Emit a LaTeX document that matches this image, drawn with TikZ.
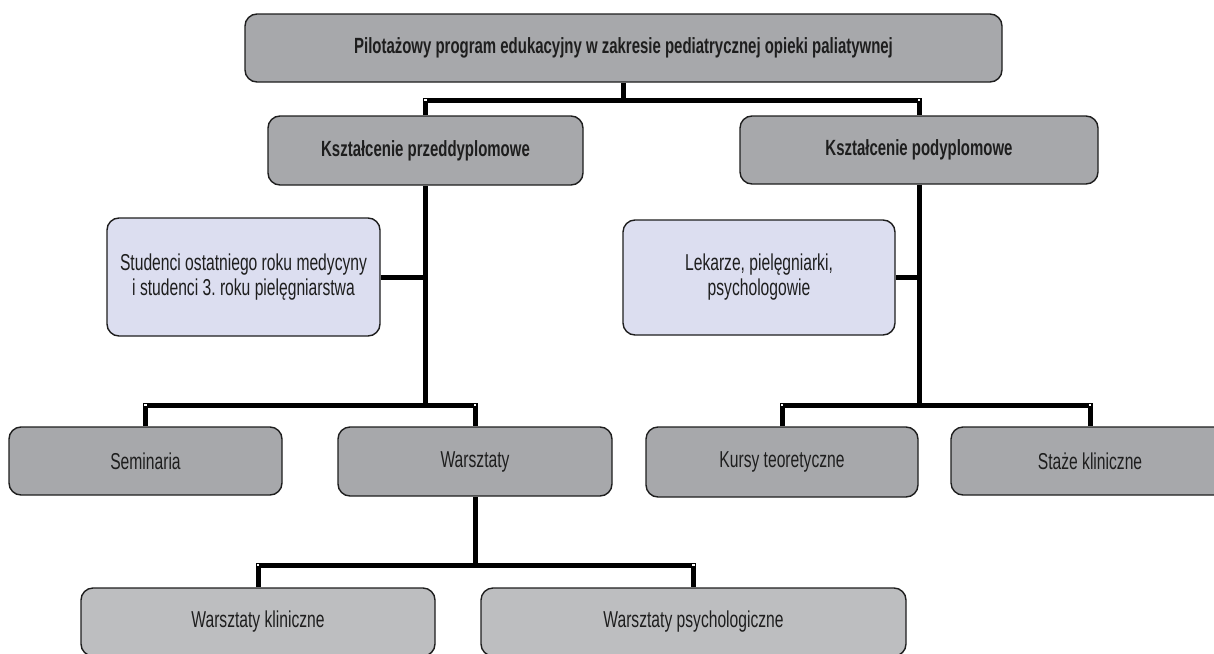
\documentclass[tikz,border=0pt]{standalone}
\usepackage{fontspec}
\setmainfont{Liberation Sans}[FakeStretch=0.68]
\frenchspacing
\usetikzlibrary{backgrounds}
\definecolor{boxgray}{HTML}{A7A8AB}
\definecolor{boxlight}{HTML}{BDBEC0}
\definecolor{boxblue}{HTML}{DCDEF0}
\definecolor{ink}{HTML}{1E1E1E}
\tikzset{
  box/.style={draw=ink, line width=1.4pt, rounded corners=12pt, fill=boxgray,
    text=ink, font=\fontsize{23}{25}\selectfont, align=center, inner sep=0pt},
  headbox/.style={box, font=\fontsize{22}{25}\selectfont\bfseries},
  lightbox/.style={box, fill=boxlight},
  bluebox/.style={box, fill=boxblue},
  conn/.style={line width=5pt, black, line join=miter},
  jdot/.style={fill=white}
}
\begin{document}
\begin{tikzpicture}[x=1pt,y=-1pt]
\useasboundingbox (0,0) rectangle (1214,653);
\clip (0,0) rectangle (1214,653);
% nodes
\node[headbox, minimum width=757pt, minimum height=68pt] (top) at (623.5,48)
  {Pilotażowy program edukacyjny w zakresie pediatrycznej opieki paliatywnej};
\node[headbox, minimum width=315pt, minimum height=69pt] (pre) at (425.5,150.5)
  {Kształcenie przeddyplomowe};
\node[headbox, minimum width=358pt, minimum height=68pt] (post) at (919,150)
  {Kształcenie podyplomowe};
\node[bluebox, minimum width=273pt, minimum height=118pt] (stud) at (243.5,277)
  {Studenci ostatniego roku medycyny\\i studenci 3. roku pielęgniarstwa};
\node[bluebox, minimum width=272pt, minimum height=115pt] (lek) at (759,277.5)
  {Lekarze, pielęgniarki,\\psychologowie};
\node[box, minimum width=273pt, minimum height=68pt] (sem) at (145.5,461) {Seminaria};
\node[box, minimum width=274pt, minimum height=69pt] (war) at (475,461.5) {Warsztaty};
\node[box, minimum width=272pt, minimum height=70pt] (kur) at (782,462) {Kursy teoretyczne};
\node[box, minimum width=278pt, minimum height=68pt] (sta) at (1090,461) {Staże kliniczne};
\node[lightbox, minimum width=354pt, minimum height=68pt] (wk) at (258,622) {Warsztaty kliniczne};
\node[lightbox, minimum width=425pt, minimum height=68pt] (wp) at (693.5,622) {Warsztaty psychologiczne};
% junctions
\coordinate (j1) at (623.5,100);
\coordinate (j2) at (425.5,405);
\coordinate (j3) at (919,405);
\coordinate (j4) at (475,565);
% connectors
\begin{scope}[on background layer]
\draw[conn] (top.south) -- (j1);
\draw[conn] (pre.north) |- (j1) -| (post.north);
\draw[conn] (pre.south) -- (j2);
\draw[conn] (stud.east) -- (stud.east -| pre.south);
\draw[conn] (sem.north) |- (j2) -| (war.north);
\draw[conn] (post.south) -- (j3);
\draw[conn] (lek.east) -- (lek.east -| post.south);
\draw[conn] (kur.north) |- (j3) -| (sta.north);
\draw[conn] (war.south) -- (j4);
\draw[conn] (wk.north) |- (j4) -| (wp.north);
\end{scope}
% small white marks at the elbow corners
\foreach \p in {(pre.north |- j1), (post.north |- j1), (sem.north |- j2), (war.north |- j2),
  (kur.north |- j3), (sta.north |- j3), (wk.north |- j4), (wp.north |- j4)}
  \fill[jdot] \p ++(-1.2,-1.2) rectangle ++(2.4,2.4);
\end{tikzpicture}
\end{document}
